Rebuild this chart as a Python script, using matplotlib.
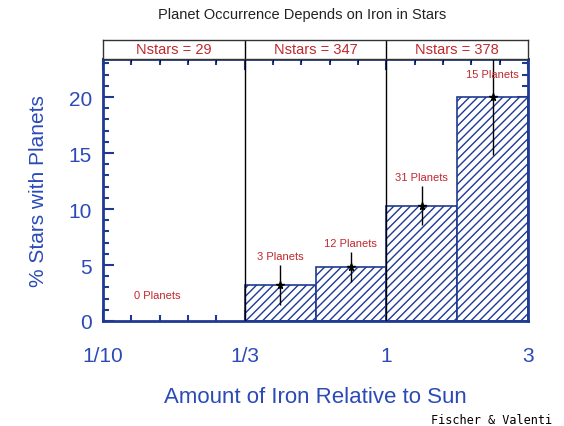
import matplotlib
matplotlib.use("Agg")
import matplotlib.pyplot as plt
import numpy as np

# bins in log10(Fe/H relative to Sun)
bin_left = [-1.0, -0.5, -0.25, 0.0, 0.25]
bin_width = [0.5, 0.25, 0.25, 0.25, 0.25]
pct_planets = [0.0, 3.2, 4.8, 10.3, 20.0]
pct_err = [0.0, 1.8, 1.35, 1.75, 5.2]
n_planets = [0, 3, 12, 31, 15]

group_edges = [-1.0, -0.5, 0.0, 0.5]
n_stars = [29, 347, 378]

xtick_pos = [-1.0, -0.5, 0.0, 0.5]
xtick_lab = ["1/10", "1/3", "1", "3"]

BLUE = "#1f3a93"
TXT_BLUE = "#2b4ab8"
RED = "#c0282e"

plt.rcParams["font.family"] = ["Liberation Sans", "DejaVu Sans"]
plt.rcParams["hatch.color"] = BLUE
plt.rcParams["hatch.linewidth"] = 1.0

fig = plt.figure(figsize=(5.64, 4.27), dpi=100)
ax = fig.add_axes([103 / 564, 1 - 322 / 427, 425 / 564, 262 / 427])
hx = fig.add_axes([103 / 564, 1 - 60 / 427, 425 / 564, 19 / 427], sharex=ax)

# histogram bars (hatched)
for left, w, v in zip(bin_left, bin_width, pct_planets):
    if v > 0:
        ax.bar(left, v, width=w, align="edge", facecolor="white",
               edgecolor=BLUE, hatch="////", linewidth=1.2, zorder=2)

# error bars + labels
for left, w, v, e, n in zip(bin_left, bin_width, pct_planets, pct_err, n_planets):
    xc = left + w / 2
    if n > 0:
        ax.errorbar(xc, v, yerr=e, fmt="*", color="black", ms=5.5,
                    elinewidth=1.0, capsize=0, zorder=4, clip_on=True)
        ty = min(v + e + 0.4, 21.6)
        ax.text(xc, ty, f"{n} Planets", color=RED, fontsize=8,
                ha="center", va="bottom", zorder=5)
    else:
        ax.text(xc - 0.06, 2.3, f"{n} Planets", color=RED, fontsize=8,
                ha="center", va="center")

ax.set_xlim(-1.0, 0.5)
ax.set_ylim(0, 23.4)

for edge in group_edges[1:-1]:
    ax.axvline(edge, color="black", lw=1.0, zorder=3)
    hx.axvline(edge, color="black", lw=1.0)

for s in ax.spines.values():
    s.set_color(BLUE)
    s.set_linewidth(2)

ax.set_xticks(xtick_pos)
ax.set_xticklabels(xtick_lab)
ax.set_xticks(np.arange(-1.0, 0.51, 0.1), minor=True)
ax.set_yticks([0, 5, 10, 15, 20])
ax.set_yticks(np.arange(0, 24, 1), minor=True)
ax.tick_params(which="both", direction="in", color=BLUE, top=True, right=True,
               width=1.5)
ax.tick_params(which="major", length=8)
ax.tick_params(which="minor", length=4)
ax.tick_params(axis="x", which="major", pad=18, labelsize=15, labelcolor=TXT_BLUE)
ax.tick_params(axis="y", which="major", pad=8, labelsize=15, labelcolor=TXT_BLUE)

ax.set_xlabel("Amount of Iron Relative to Sun", color=TXT_BLUE, fontsize=16, labelpad=15)
ax.set_ylabel("% Stars with Planets", color=TXT_BLUE, fontsize=15, labelpad=15)

# header strip with star counts
hx.set_ylim(0, 1)
for s in hx.spines.values():
    s.set_color("#333333")
    s.set_linewidth(1)
hx.tick_params(left=False, bottom=False, labelleft=False, labelbottom=False)
for a, b, n in zip(group_edges[:-1], group_edges[1:], n_stars):
    hx.text((a + b) / 2, 0.5, f"Nstars = {n}", color=RED, fontsize=10.5,
            ha="center", va="center")

fig.text(0.536, 0.965, "Planet Occurrence Depends on Iron in Stars",
         fontsize=10.5, color="#222222", ha="center", va="center")
fig.text(0.979, 0.016, "Fischer & Valenti", fontsize=8.5,
         family="DejaVu Sans Mono", ha="right", va="center")

fig.savefig("out.png", dpi=100)
